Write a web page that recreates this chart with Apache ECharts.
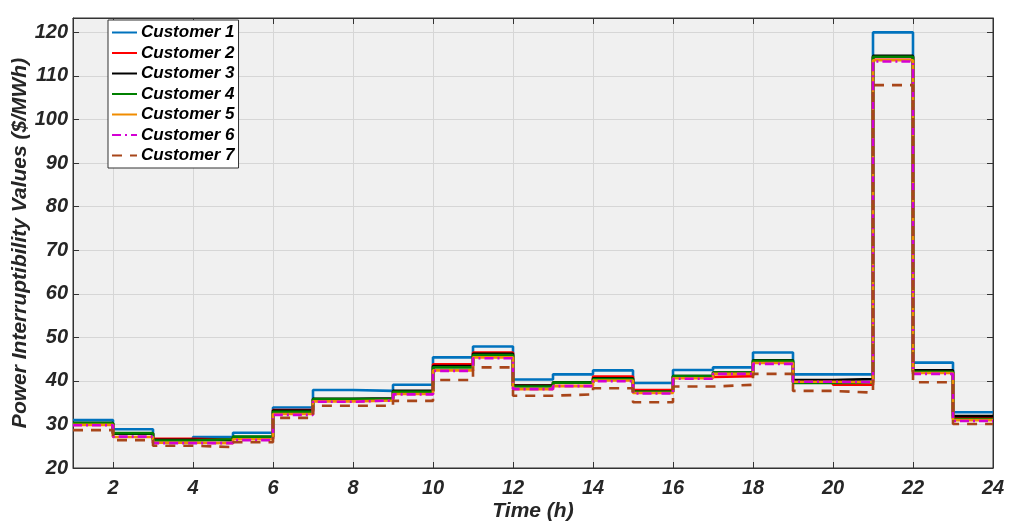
<!DOCTYPE html>
<html>
<head>
<meta charset="utf-8">
<script src="https://cdn.jsdelivr.net/npm/echarts@6/dist/echarts.min.js"></script>
<style>
  html, body { margin: 0; padding: 0; background: #fff; }
  #chart { width: 1009px; height: 523px; }
</style>
</head>
<body>
<div id="chart"></div>
<script>
// hour tick labels (category axis, 1..24)
var hours = ['1','2','3','4','5','6','7','8','9','10','11','12','13','14','15','16','17','18','19','20','21','22','23','24'];

// values held from hour h to h+1 (23 steps)
var customer1 = [31.0, 28.9, 26.6, 27.1, 28.1, 33.9, 37.9, 37.7, 39.1, 45.4, 47.9, 40.3, 41.5, 42.4, 39.5, 42.5, 43.1, 46.5, 41.5, 41.5, 120.0, 44.2, 32.8];
var customer2 = [30.2, 27.9, 26.7, 26.5, 27.0, 33.3, 35.7, 35.8, 37.6, 43.8, 46.5, 38.9, 39.5, 41.0, 37.9, 40.9, 41.1, 44.3, 39.7, 39.1, 114.3, 42.0, 31.4];
var customer3 = [30.3, 27.9, 26.5, 26.4, 27.1, 33.2, 35.9, 36.0, 37.7, 43.4, 46.2, 38.9, 39.7, 40.6, 37.5, 41.1, 41.9, 44.7, 40.2, 40.4, 114.6, 42.4, 31.9];
var customer4 = [30.3, 28.0, 26.3, 26.6, 27.2, 32.9, 35.8, 35.9, 37.5, 43.1, 45.9, 38.7, 39.6, 40.4, 37.5, 41.1, 41.9, 44.6, 39.5, 39.6, 114.4, 42.1, 31.2];
var customer5 = [29.9, 27.1, 25.8, 25.7, 26.6, 32.4, 35.3, 35.5, 37.0, 42.4, 45.4, 38.1, 38.8, 40.1, 37.2, 40.6, 41.6, 44.1, 39.8, 39.7, 113.6, 41.8, 31.0];
var customer6 = [29.8, 27.2, 25.7, 25.7, 26.4, 32.2, 35.2, 35.5, 36.9, 42.3, 45.2, 38.1, 38.8, 39.9, 37.1, 40.5, 41.6, 43.9, 39.8, 39.7, 113.3, 41.6, 30.8];
var customer7 = [28.7, 26.4, 25.1, 24.8, 25.9, 31.5, 34.3, 34.3, 35.4, 40.2, 43.1, 36.6, 36.9, 38.3, 35.1, 38.7, 39.1, 41.6, 37.7, 37.3, 107.9, 39.7, 30.1];

var names = ['Customer 1','Customer 2','Customer 3','Customer 4','Customer 5','Customer 6','Customer 7'];
var colors = ['#0072bd', '#ff0000', '#000000', '#008000', '#f08c00', '#d400d4', '#a8461a'];
var dashes = ['solid','solid','solid','solid','solid',[9,4,2,4],[10,8]];
var allData = [customer1, customer2, customer3, customer4, customer5, customer6, customer7];

var font = 'Liberation Sans, Arial, sans-serif';
var axisColor = '#333';
var textColor = '#262626';

var chart = echarts.init(document.getElementById('chart'));

var series = allData.map(function (vals, i) {
  return {
    name: names[i],
    type: 'line',
    step: 'end',
    symbol: 'none',
    animation: false,
    // repeat last value so the final step reaches hour 24
    data: vals.concat([vals[vals.length - 1]]),
    lineStyle: { color: colors[i], width: 2.6, type: dashes[i] },
    itemStyle: { color: colors[i] }
  };
});

function evenHour(index) { return (index + 1) % 2 === 0; }

var option = {
  backgroundColor: '#fff',
  animation: false,
  grid: {
    left: 73, right: 16, top: 18, bottom: 55,
    outerBoundsMode: 'none',
    containLabel: false,
    show: true, backgroundColor: '#f0f0f0', borderColor: axisColor, borderWidth: 1
  },
  legend: {
    orient: 'vertical',
    left: 108, top: 20,
    backgroundColor: '#fff',
    borderColor: axisColor,
    borderWidth: 1,
    padding: [4, 4, 4, 3],
    itemWidth: 25,
    itemHeight: 12,
    itemGap: 3.5,
    itemStyle: { opacity: 0 },
    textStyle: { fontFamily: font, fontSize: 17, fontWeight: 'bold', fontStyle: 'italic', color: '#000', padding: [0, 0, 0, -1] },
    data: names
  },
  xAxis: [{
    type: 'category',
    data: hours,
    boundaryGap: false,
    name: 'Time (h)',
    nameLocation: 'middle',
    nameGap: 33,
    nameMoveOverlap: false,
    nameTextStyle: { fontFamily: font, fontSize: 21, fontWeight: 'bold', fontStyle: 'italic', color: textColor },
    axisLine: { lineStyle: { color: axisColor, width: 1 } },
    axisTick: { inside: true, length: 6, interval: evenHour, lineStyle: { color: axisColor } },
    axisLabel: { interval: evenHour, margin: 10, fontFamily: font, fontSize: 20, fontWeight: 'bold', fontStyle: 'italic', color: textColor },
    splitLine: { show: true, interval: evenHour, lineStyle: { color: '#d6d6d6', width: 1 } }
  }, {
    type: 'category',
    data: hours,
    boundaryGap: false,
    position: 'top',
    axisLine: { lineStyle: { color: axisColor, width: 1 } },
    axisTick: { inside: true, length: 6, interval: evenHour, lineStyle: { color: axisColor } },
    axisLabel: { show: false },
    splitLine: { show: false }
  }],
  yAxis: [{
    type: 'value',
    min: 20, max: 123.3, interval: 10,
    name: 'Power Interruptibility Values ($/MWh)',
    nameLocation: 'middle',
    nameGap: 42,
    nameMoveOverlap: false,
    nameTextStyle: { fontFamily: font, fontSize: 21, fontWeight: 'bold', fontStyle: 'italic', color: textColor },
    axisLine: { show: true, lineStyle: { color: axisColor, width: 1 } },
    axisTick: { show: true, inside: true, length: 6, lineStyle: { color: axisColor } },
    axisLabel: { showMaxLabel: false, margin: 5, fontFamily: font, fontSize: 20, fontWeight: 'bold', fontStyle: 'italic', color: textColor },
    splitLine: { show: true, lineStyle: { color: '#d6d6d6', width: 1 } }
  }, {
    type: 'value',
    position: 'right',
    min: 20, max: 123.3, interval: 10,
    axisLine: { show: true, lineStyle: { color: axisColor, width: 1 } },
    axisTick: { show: true, inside: true, length: 6, lineStyle: { color: axisColor } },
    axisLabel: { show: false },
    splitLine: { show: false }
  }],
  series: series
};

chart.setOption(option);
</script>
</body>
</html>
